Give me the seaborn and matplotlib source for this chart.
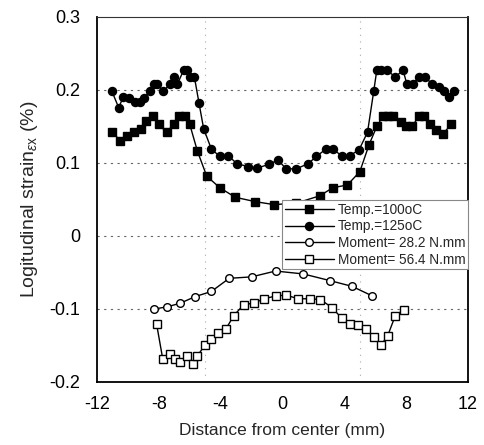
import matplotlib
matplotlib.use("Agg")
import matplotlib.pyplot as plt
import seaborn as sns
import pandas as pd

# ---- data ----
temp100_x = [-11.0, -10.5, -10.05, -9.6, -9.15, -8.8, -8.4, -8.0, -7.5, -7.05, -6.7, -6.3, -6.0,
             -5.5, -4.9, -4.05, -3.05, -1.75, -0.55, 0.9, 2.4, 3.25, 4.2, 5.0, 5.6, 6.1, 6.5,
             6.8, 7.15, 7.65, 8.0, 8.4, 8.8, 9.15, 9.55, 9.95, 10.4, 10.9]
temp100_y = [0.143, 0.130, 0.137, 0.142, 0.147, 0.157, 0.165, 0.153, 0.142, 0.153, 0.164, 0.164,
             0.153, 0.116, 0.082, 0.066, 0.053, 0.047, 0.043, 0.045, 0.055, 0.066, 0.070, 0.088,
             0.125, 0.150, 0.164, 0.164, 0.164, 0.156, 0.150, 0.150, 0.164, 0.164, 0.154, 0.145,
             0.140, 0.153]

temp125_x = [-11.05, -10.6, -10.3, -9.9, -9.55, -9.25, -8.95, -8.6, -8.3, -8.1, -7.7, -7.3, -7.05,
             -6.8, -6.4, -6.2, -6.0, -5.7, -5.4, -5.1, -4.6, -4.05, -3.5, -2.95, -2.2, -1.65,
             -0.9, -0.3, 0.25, 0.9, 1.65, 2.2, 2.8, 3.3, 3.85, 4.35, 4.95, 5.5, 5.9, 6.1, 6.4,
             6.75, 7.3, 7.8, 8.05, 8.45, 8.8, 9.2, 9.7, 10.1, 10.45, 10.8, 11.1]
temp125_y = [0.199, 0.176, 0.190, 0.189, 0.183, 0.183, 0.189, 0.198, 0.208, 0.208, 0.198, 0.208,
             0.218, 0.208, 0.227, 0.227, 0.218, 0.218, 0.182, 0.147, 0.119, 0.109, 0.110, 0.099,
             0.095, 0.093, 0.098, 0.104, 0.092, 0.092, 0.099, 0.109, 0.119, 0.119, 0.109, 0.110,
             0.118, 0.142, 0.198, 0.227, 0.227, 0.227, 0.218, 0.227, 0.208, 0.208, 0.218, 0.218,
             0.208, 0.204, 0.198, 0.190, 0.198]

m282_x = [-8.3, -7.45, -6.6, -5.65, -4.6, -3.45, -2.0, -0.45, 1.35, 3.05, 4.5, 5.8]
m282_y = [-0.100, -0.097, -0.092, -0.083, -0.076, -0.058, -0.056, -0.048, -0.052, -0.061,
          -0.069, -0.082]

m564_x = [-8.15, -7.75, -7.3, -6.95, -6.6, -6.2, -5.8, -5.5, -5.0, -4.65, -4.15, -3.65, -3.15,
          -2.5, -1.85, -1.2, -0.4, 0.25, 1.0, 1.75, 2.45, 3.2, 3.85, 4.35, 4.9, 5.4, 5.9, 6.35,
          6.8, 7.3, 7.85]
m564_y = [-0.120, -0.168, -0.162, -0.168, -0.172, -0.164, -0.176, -0.164, -0.149, -0.141, -0.133,
          -0.127, -0.109, -0.094, -0.092, -0.086, -0.082, -0.081, -0.086, -0.086, -0.087, -0.098,
          -0.113, -0.121, -0.122, -0.127, -0.138, -0.150, -0.137, -0.109, -0.101]

labels = ["Temp.=100oC", "Temp.=125oC", "Moment= 28.2 N.mm", "Moment= 56.4 N.mm"]
x_ticks = [-12, -8, -4, 0, 4, 8, 12]
x_ticklabels = ["-12", "-8", "-4", "0", "4", "8", "12"]
y_ticks = [-0.2, -0.1, 0, 0.1, 0.2, 0.3]
y_ticklabels = ["-0.2", "-0.1", "0", "0.1", "0.2", "0.3"]

# ---- plotting ----
sns.set_style("white")
plt.rcParams["font.family"] = ["Liberation Sans", "DejaVu Sans"]
plt.rcParams["mathtext.fontset"] = "custom"
plt.rcParams["mathtext.rm"] = "Liberation Sans"
plt.rcParams["mathtext.it"] = "Liberation Sans:italic"

fig = plt.figure(figsize=(4.84, 4.45), dpi=100)
ax = fig.add_axes([0.2004, 0.1416, 0.7665, 0.8202])

series = [
    (temp100_x, temp100_y, "s", "black", 5.8),
    (temp125_x, temp125_y, "o", "black", 5.8),
    (m282_x, m282_y, "o", "white", 5.5),
    (m564_x, m564_y, "s", "white", 6.0),
]
for (xs, ys, mk, fc, ms), lab in zip(series, labels):
    df = pd.DataFrame({"x": xs, "y": ys})
    sns.lineplot(data=df, x="x", y="y", ax=ax, sort=False, estimator=None, errorbar=None,
                 color="black", linewidth=1.0, marker=mk, markersize=ms,
                 markerfacecolor=fc, markeredgecolor="black", markeredgewidth=1.0,
                 label=lab, zorder=3)

ax.set_xlim(-12, 12)
ax.set_ylim(-0.2, 0.3)
ax.set_xticks(x_ticks)
ax.set_xticklabels(x_ticklabels)
ax.set_yticks(y_ticks)
ax.set_yticklabels(y_ticklabels)
ax.tick_params(axis="both", labelsize=13, direction="in", length=3, width=0.8,
               colors="black")
ax.tick_params(axis="y", pad=12)
ax.tick_params(axis="x", pad=10)

# dotted grid
for yv in [-0.1, 0, 0.1, 0.2]:
    ax.axhline(yv, color="#666666", linestyle=(0, (2, 4)), linewidth=0.8, zorder=1)
for xv in [-5, 5]:
    ax.axvline(xv, color="#aaaaaa", linestyle=(0, (1, 5)), linewidth=0.8, zorder=1)

for side in ["left", "bottom", "right"]:
    ax.spines[side].set_linewidth(1.3)
    ax.spines[side].set_color("black")
ax.spines["top"].set_linewidth(0.8)
ax.spines["top"].set_color("#333333")

ax.set_xlabel("Distance from center (mm)", fontsize=12.5, labelpad=7)
ax.set_ylabel(r"Logitudinal strain$_{\varepsilon\mathregular{x}}$ (%)", fontsize=14, labelpad=7)

leg = ax.legend(loc="upper right", bbox_to_anchor=(1.0, 0.499), borderaxespad=0,
                fontsize=9.8, frameon=True, fancybox=False, framealpha=1,
                edgecolor="#888888", labelspacing=0.2, handlelength=3.6,
                handletextpad=0.3, borderpad=0.2)
leg.get_frame().set_linewidth(0.8)
leg.set_zorder(5)

fig.savefig("out.png", dpi=100)
